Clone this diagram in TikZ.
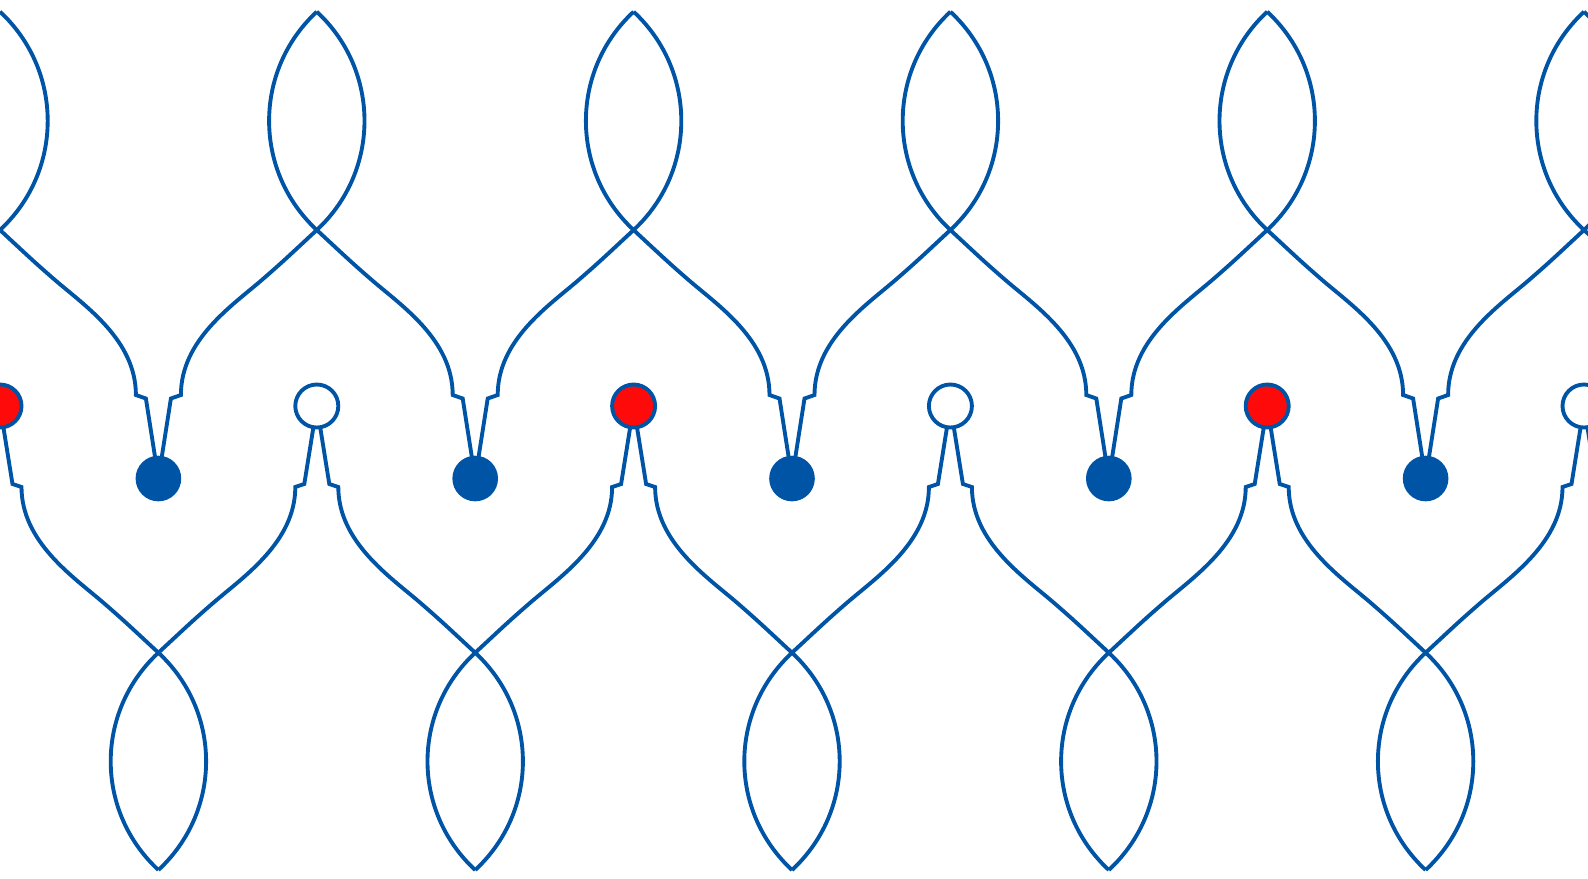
\documentclass[tikz,border=0pt]{standalone}
\usepackage{tikz}
\usetikzlibrary{calc}
\definecolor{knotblue}{RGB}{0,84,166}
\definecolor{knotred}{RGB}{255,10,10}
\tikzset{
  strand/.style={draw=knotblue, line width=1.1pt, line join=miter},
  bead/.style={circle, fill=knotblue, inner sep=0pt, minimum size=0.456cm},
  ring/.style={circle, draw=knotblue, line width=1.1pt, inner sep=0pt, minimum size=0.43cm},
}

\begin{document}
\begin{tikzpicture}[x=0.01cm, y=-0.01cm]
    \useasboundingbox (0,0) rectangle (1588,878);
    \clip (0,0) rectangle (1588,878);
    \def\per{316.8}

    % bead and ring positions
    \foreach \k in {-1,...,6} {
      \coordinate (d\k) at ({(\k+0.5)*\per}, 478.5);
      \coordinate (c\k) at ({\k*\per}, 406);
    }

    % upper lenses, strands going down to the beads
    \foreach \k [evaluate=\k as \j using int(\k-1)] in {0,...,5} {
      \coordinate (top\k) at ({\k*\per}, 11.7);
      \coordinate (cross\k) at ({\k*\per}, 230);
      \draw[strand] (top\k) .. controls +(-63.6,59) and +(-63.6,-59) .. (cross\k)
        .. controls +(24,22.2) and +(-22,-19) .. ($(cross\k)+(55,50)$)
        .. controls +(30,25.9) and +(0,-55) .. ($(d\k)+(-22.5,-83.5)$)
        -- ($(d\k)+(-12.5,-80)$) -- (d\k);
      \draw[strand] (top\k) .. controls +(63.6,59) and +(63.6,-59) .. (cross\k)
        .. controls +(-24,22.2) and +(22,-19) .. ($(cross\k)+(-55,50)$)
        .. controls +(-30,25.9) and +(0,-55) .. ($(d\j)+(22.5,-83.5)$)
        -- ($(d\j)+(12.5,-80)$) -- (d\j);
    }

    % lower lenses, strands going up to the rings
    \foreach \k [evaluate=\k as \j using int(\k+1)] in {-1,...,5} {
      \coordinate (bot\k) at ({(\k+0.5)*\per}, 870);
      \coordinate (bcross\k) at ({(\k+0.5)*\per}, 652.7);
      \draw[strand] (bot\k) .. controls +(-63.6,-59) and +(-63.6,59) .. (bcross\k)
        .. controls +(24,-22.2) and +(-22,19) .. ($(bcross\k)+(55,-50)$)
        .. controls +(30,-25.9) and +(0,55) .. ($(c\j)+(-21.5,81)$)
        -- ($(c\j)+(-12.5,78)$) -- (c\j);
      \draw[strand] (bot\k) .. controls +(63.6,-59) and +(63.6,59) .. (bcross\k)
        .. controls +(-24,-22.2) and +(22,19) .. ($(bcross\k)+(-55,-50)$)
        .. controls +(-30,-25.9) and +(0,55) .. ($(c\k)+(21.5,81)$)
        -- ($(c\k)+(12.5,78)$) -- (c\k);
    }

    \foreach \k in {0,2,4} \node[ring, fill=knotred] (r\k) at (c\k) {};
    \foreach \k in {1,3,5} \node[ring, fill=white] (r\k) at (c\k) {};
    \foreach \k in {0,...,4} \node[bead] (b\k) at (d\k) {};
  \end{tikzpicture}
\end{document}
